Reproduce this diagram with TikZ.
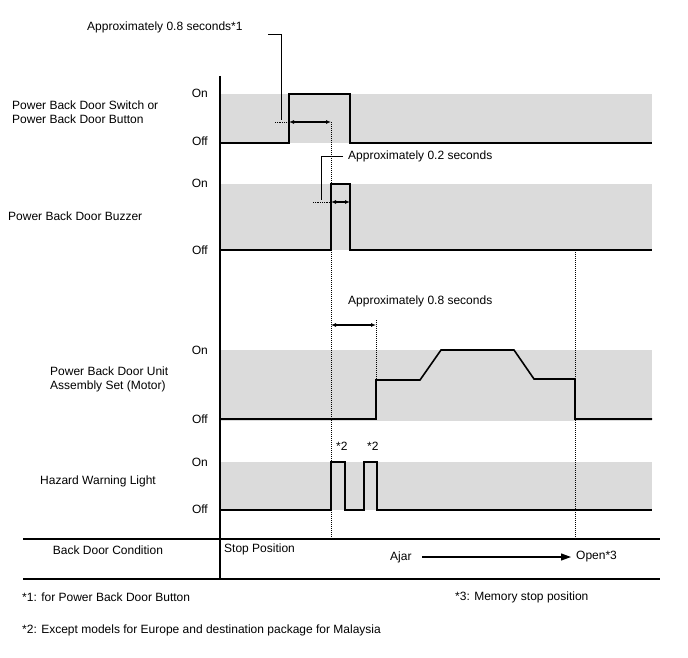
\documentclass[tikz,border=0pt]{standalone}
\usepackage{fontspec}
\setmainfont{Liberation Sans}
\usetikzlibrary{arrows.meta}
\begin{document}
\begin{tikzpicture}[x=1pt,y=-1pt,
  lbl/.style={font=\fontsize{12}{14}\selectfont, inner sep=0pt, text=black},
  band/.style={fill=black!14, draw=none},
  sig/.style={line width=1.6pt, line join=miter},
  axis/.style={line width=1.3pt},
  dots/.style={densely dotted, line width=1pt},
  lead/.style={line width=0.9pt},
  dim/.style={line width=1.1pt, {Latex[length=5pt,width=4pt]}-{Latex[length=5pt,width=4pt]}}
]
\useasboundingbox (0,0) rectangle (688,658);
% bands
\fill[band] (220,94) rectangle (652,143);
\fill[band] (220,184) rectangle (652,250);
\fill[band] (220,350) rectangle (652,421);
\fill[band] (220,462) rectangle (652,510);

% dotted verticals
\coordinate (d1t) at (331,122); \coordinate (d1b) at (331,538);
\draw[dots] (d1t) -- (d1b);
\coordinate (d2t) at (575,252); \coordinate (d2b) at (575,538);
\draw[dots] (d2t) -- (d2b);
\coordinate (d3t) at (376,320); \coordinate (d3b) at (376,419);
\draw[dots] (d3t) -- (d3b);

% axis and table lines
\coordinate (axT) at (220,76); \coordinate (axB) at (220,579);
\draw[axis] (axT) -- (axB);
\coordinate (h1L) at (23,539); \coordinate (h1R) at (660,539);
\draw[axis] (h1L) -- (h1R);
\coordinate (h2L) at (23,579); \coordinate (h2R) at (660,579);
\draw[axis] (h2L) -- (h2R);

% row 1 signal
\draw[sig] (220,143) -- (289,143) -- (289,94) -- (350,94) -- (350,143) -- (652,143);
% row 2 signal
\draw[sig] (220,250) -- (331,250) -- (331,184) -- (350,184) -- (350,250) -- (652,250);
% row 3 signal
\draw[sig] (220,419) -- (376,419) -- (376,380) -- (420,380) -- (441,350) -- (514,350) -- (534,379) -- (575,379) -- (575,419) -- (652,419);
% row 4 signal
\draw[sig] (220,510) -- (331,510) -- (331,462) -- (345,462) -- (345,510) -- (364,510) -- (364,462) -- (377,462) -- (377,510) -- (652,510);

% On/Off labels
\foreach \n/\y in {a/93,b/183,c/350,d/462}{
  \node[lbl, anchor=east] (on\n) at (208,\y) {On};}
\foreach \n/\y in {a/141,b/250,c/419,d/509}{
  \node[lbl, anchor=east] (off\n) at (208,\y) {Off};}

% row labels
\node[lbl, anchor=west, align=left] (r1) at (12,112) {Power Back Door Switch or\\Power Back Door Button};
\node[lbl, anchor=west] (r2) at (8,216) {Power Back Door Buzzer};
\node[lbl, anchor=west, align=left] (r3) at (50,379) {Power Back Door Unit\\Assembly Set (Motor)};
\node[lbl, anchor=west] (r4) at (40,481) {Hazard Warning Light};

% annotation 1
\node[lbl, anchor=west] (a1) at (87,27) {Approximately 0.8 seconds*1};
\coordinate (a1s) at (268,34); \coordinate (a1c) at (281,34); \coordinate (a1e) at (281,120);
\draw[lead] (a1s) -- (a1c) -- (a1e);
\coordinate (a1d) at (275,122); \coordinate (a1f) at (289,122);
\draw[dots, line width=0.8pt] (a1d) -- (a1f);
\coordinate (a1g) at (331,122);
\draw[dim] (a1f) -- (a1g);

% annotation 2
\node[lbl, anchor=west] (a2) at (348,156) {Approximately 0.2 seconds};
\coordinate (a2s) at (343,156); \coordinate (a2c) at (321,156); \coordinate (a2e) at (321,200);
\draw[lead] (a2s) -- (a2c) -- (a2e);
\coordinate (a2d) at (313,202); \coordinate (a2f) at (331,202);
\draw[dots, line width=0.8pt] (a2d) -- (a2f);
\coordinate (a2g) at (350,202);
\draw[dim] (a2f) -- (a2g);

% annotation 3
\node[lbl, anchor=west] (a3) at (348,301) {Approximately 0.8 seconds};
\coordinate (a3f) at (331,325); \coordinate (a3g) at (376,325);
\draw[dim] (a3f) -- (a3g);

% *2 labels
\node[lbl, anchor=west] (s2a) at (336,446) {*2};
\node[lbl, anchor=west] (s2b) at (367,446) {*2};

% condition row
\node[lbl] (bdc) at (108,550) {Back Door Condition};
\node[lbl, anchor=west] (stop) at (224,549) {Stop Position};
\node[lbl, anchor=west] (ajar) at (390,557) {Ajar};
\node[lbl, anchor=west] (open) at (576,557) {Open*3};
\draw[line width=1.1pt, -{Triangle[length=10pt,width=7pt]}] (422,557) -- ([xshift=-5pt]open.west);

% footnotes
\node[lbl, anchor=west] (f1) at (22,597) {*1: for Power Back Door Button};
\node[lbl, anchor=west] (f3) at (455,597) {*3: Memory stop position};
\node[lbl, anchor=west] (f2) at (22,630) {*2: Except models for Europe and destination package for Malaysia};
\end{tikzpicture}
\end{document}
